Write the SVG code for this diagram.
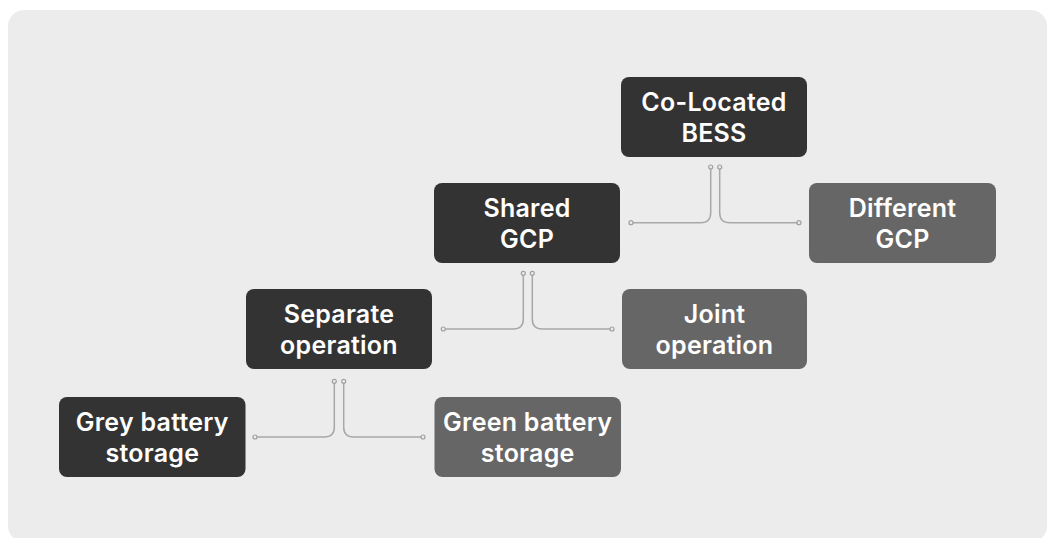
<svg xmlns="http://www.w3.org/2000/svg" width="1048" height="538" viewBox="0 0 1048 538">
<style>
.panel{fill:#ececec}
.dark{fill:#333333}
.grey{fill:#666666}
.lbl{font-family:Inter,"Liberation Sans",sans-serif;font-weight:600;font-size:25px;letter-spacing:0.25px;fill:#ffffff;text-anchor:middle}
.conn{fill:none;stroke:#a8a8a8;stroke-width:1.5}
.dot{fill:#ececec;stroke:#a0a0a0;stroke-width:1.2}
</style>
<rect width="1048" height="538" fill="#ffffff"/>
<rect class="panel" x="8" y="10" width="1039" height="532" rx="16"/>
<g id="connectors">
<path class="conn" d="M710.7,167 V212.7 Q710.7,222.7 700.7,222.7 H631"/>
<path class="conn" d="M719.7,167 V212.7 Q719.7,222.7 729.7,222.7 H799"/>
<circle class="dot" cx="710.7" cy="167" r="2"/><circle class="dot" cx="719.7" cy="167" r="2"/>
<circle class="dot" cx="631" cy="222.7" r="2"/><circle class="dot" cx="799" cy="222.7" r="2"/>
<path class="conn" d="M523.3,273.3 V319 Q523.3,329 513.3,329 H443.3"/>
<path class="conn" d="M532.3,273.3 V319 Q532.3,329 542.3,329 H612"/>
<circle class="dot" cx="523.3" cy="273.3" r="2"/><circle class="dot" cx="532.3" cy="273.3" r="2"/>
<circle class="dot" cx="443.3" cy="329" r="2"/><circle class="dot" cx="612" cy="329" r="2"/>
<path class="conn" d="M334.3,381.3 V427 Q334.3,437 324.3,437 H255"/>
<path class="conn" d="M343.7,381.3 V427 Q343.7,437 353.7,437 H423"/>
<circle class="dot" cx="334.3" cy="381.3" r="2"/><circle class="dot" cx="343.7" cy="381.3" r="2"/>
<circle class="dot" cx="255" cy="437" r="2"/><circle class="dot" cx="423" cy="437" r="2"/>
</g>
<g id="co-located-bess"><rect class="dark" x="621" y="77" width="186" height="80" rx="8"/><text class="lbl" x="714" y="111">Co-Located</text><text class="lbl" x="714" y="142">BESS</text></g>
<g id="shared-gcp"><rect class="dark" x="434" y="183" width="186" height="80" rx="8"/><text class="lbl" x="527" y="217">Shared</text><text class="lbl" x="527" y="248">GCP</text></g>
<g id="different-gcp"><rect class="grey" x="809" y="183" width="187" height="80" rx="8"/><text class="lbl" x="902.5" y="217">Different</text><text class="lbl" x="902.5" y="248">GCP</text></g>
<g id="separate-operation"><rect class="dark" x="246" y="289" width="186" height="80" rx="8"/><text class="lbl" x="339" y="323">Separate</text><text class="lbl" x="339" y="354">operation</text></g>
<g id="joint-operation"><rect class="grey" x="622" y="289" width="185" height="80" rx="8"/><text class="lbl" x="714.5" y="323">Joint</text><text class="lbl" x="714.5" y="354">operation</text></g>
<g id="grey-battery-storage"><rect class="dark" x="59" y="397" width="186.5" height="80" rx="8"/><text class="lbl" x="152.3" y="431">Grey battery</text><text class="lbl" x="152.3" y="462">storage</text></g>
<g id="green-battery-storage"><rect class="grey" x="434.5" y="397" width="186.5" height="80" rx="8"/><text class="lbl" x="527.7" y="431">Green battery</text><text class="lbl" x="527.7" y="462">storage</text></g>
</svg>
